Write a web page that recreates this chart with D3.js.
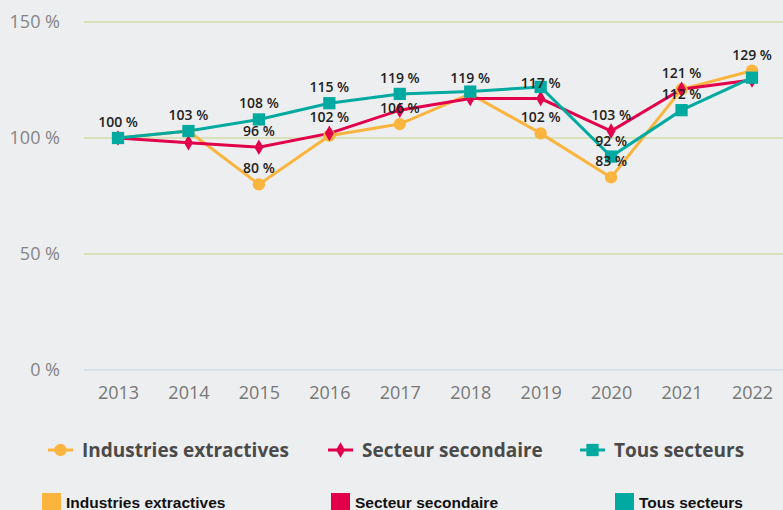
<!DOCTYPE html>
<html>
<head>
<meta charset="utf-8">
<script src="https://cdn.jsdelivr.net/npm/d3@7"></script>
<style>
  body { margin: 0; background: #edeef0; }
  svg { display: block; }
  .tick text { font-family: "Open Sans", sans-serif; }
</style>
</head>
<body>
<svg id="svg" width="783" height="510"></svg>
<script>
const years = [2013, 2014, 2015, 2016, 2017, 2018, 2019, 2020, 2021, 2022];
const extractives = [100, 103, 80, 101, 106, 119, 102, 83, 121, 129];
const secondaire = [100, 98, 96, 102, 112, 117, 117, 103, 121, 125];
const tous = [100, 103, 108, 115, 119, 120, 122, 92, 112, 126];
// labels actually visible on the chart (null = hidden)
const extractivesLabels = [null, null, 80, null, 106, 119, 102, 83, 121, 129];
const secondaireLabels = [null, null, 96, 102, null, null, 117, 103, null, null];
const tousLabels = [100, 103, 108, 115, 119, null, null, 92, 112, null];
const yTicks = [0, 50, 100, 150];
const seriesNames = ["Industries extractives", "Secteur secondaire", "Tous secteurs"];

const colors = ["#fbb53f", "#e2004b", "#00aaa1"];
const series = [
  { name: seriesNames[0], values: extractives, labels: extractivesLabels, color: colors[0], shape: d3.symbolCircle, size: 120 },
  { name: seriesNames[1], values: secondaire, labels: secondaireLabels, color: colors[1], shape: d3.symbolDiamond, size: 70 },
  { name: seriesNames[2], values: tous, labels: tousLabels, color: colors[2], shape: d3.symbolSquare, size: 150 }
];

const svg = d3.select("#svg");
const x = d3.scalePoint().domain(years).range([118, 752]);
const y = d3.scaleLinear().domain([0, 150]).range([370, 22]);

// gridlines
svg.append("g").selectAll("line").data(yTicks).join("line")
  .attr("x1", 84).attr("x2", 783)
  .attr("y1", d => y(d)).attr("y2", d => y(d))
  .attr("stroke", d => d === 0 ? "#d3dbe6" : "#cfdca8").attr("stroke-width", 1.5);

const yAxis = svg.append("g").attr("transform", "translate(60,0)")
  .call(d3.axisLeft(y).tickValues(yTicks).tickSize(0).tickPadding(0).tickFormat(d => d + " %"));
yAxis.select(".domain").remove();
yAxis.selectAll("text").attr("font-size", 18).attr("fill", "#858585").attr("dy", "0.32em");

const xAxis = svg.append("g").attr("transform", "translate(0,370)")
  .call(d3.axisBottom(x).tickSize(0).tickPadding(16));
xAxis.select(".domain").remove();
xAxis.selectAll("text").attr("font-size", 18).attr("fill", "#777");

const line = d3.line().x((d, i) => x(years[i])).y(d => y(d));

series.forEach(s => {
  svg.append("path").datum(s.values).attr("d", line)
    .attr("fill", "none").attr("stroke", s.color).attr("stroke-width", 3);
});
series.forEach(s => {
  svg.append("g").selectAll("path").data(s.values).join("path")
    .attr("d", d3.symbol().type(s.shape).size(s.size))
    .attr("transform", (d, i) => "translate(" + x(years[i]) + "," + y(d) + ")")
    .attr("fill", s.color);
});
series.forEach(s => {
  svg.append("g").selectAll("text").data(s.labels.map((l, i) => ({ l, i })).filter(d => d.l !== null)).join("text")
    .attr("x", d => x(years[d.i]))
    .attr("y", d => y(s.values[d.i]) - 11)
    .attr("text-anchor", "middle")
    .attr("font-family", "Open Sans, sans-serif").attr("font-weight", 600).attr("font-size", 14)
    .attr("fill", "#222")
    .text(d => d.l + " %");
});

// legend with markers
const legendX = [48, 328, 580];
series.forEach((s, i) => {
  const g = svg.append("g").attr("transform", "translate(" + legendX[i] + ",450)");
  g.append("line").attr("x1", 0).attr("x2", 25).attr("stroke", s.color).attr("stroke-width", 3);
  g.append("path").attr("d", d3.symbol().type(s.shape).size(s.size)).attr("transform", "translate(12.5,0)").attr("fill", s.color);
  g.append("text").attr("x", 34).attr("y", 0).attr("dy", "0.35em")
    .attr("font-family", "Open Sans, sans-serif").attr("font-weight", 700).attr("font-size", 19)
    .attr("fill", "#4a4a4a").text(s.name);
});

// legend with squares
const legend2X = [42, 331, 615];
series.forEach((s, i) => {
  const g = svg.append("g").attr("transform", "translate(" + legend2X[i] + ",493)");
  g.append("rect").attr("width", 19).attr("height", 19).attr("fill", s.color);
  g.append("text").attr("x", 24).attr("y", 15)
    .attr("font-family", "Liberation Sans Narrow, Arial Narrow, sans-serif").attr("font-weight", 700).attr("font-size", 15.5)
    .attr("fill", "#111").text(s.name);
});
</script>
</body>
</html>
